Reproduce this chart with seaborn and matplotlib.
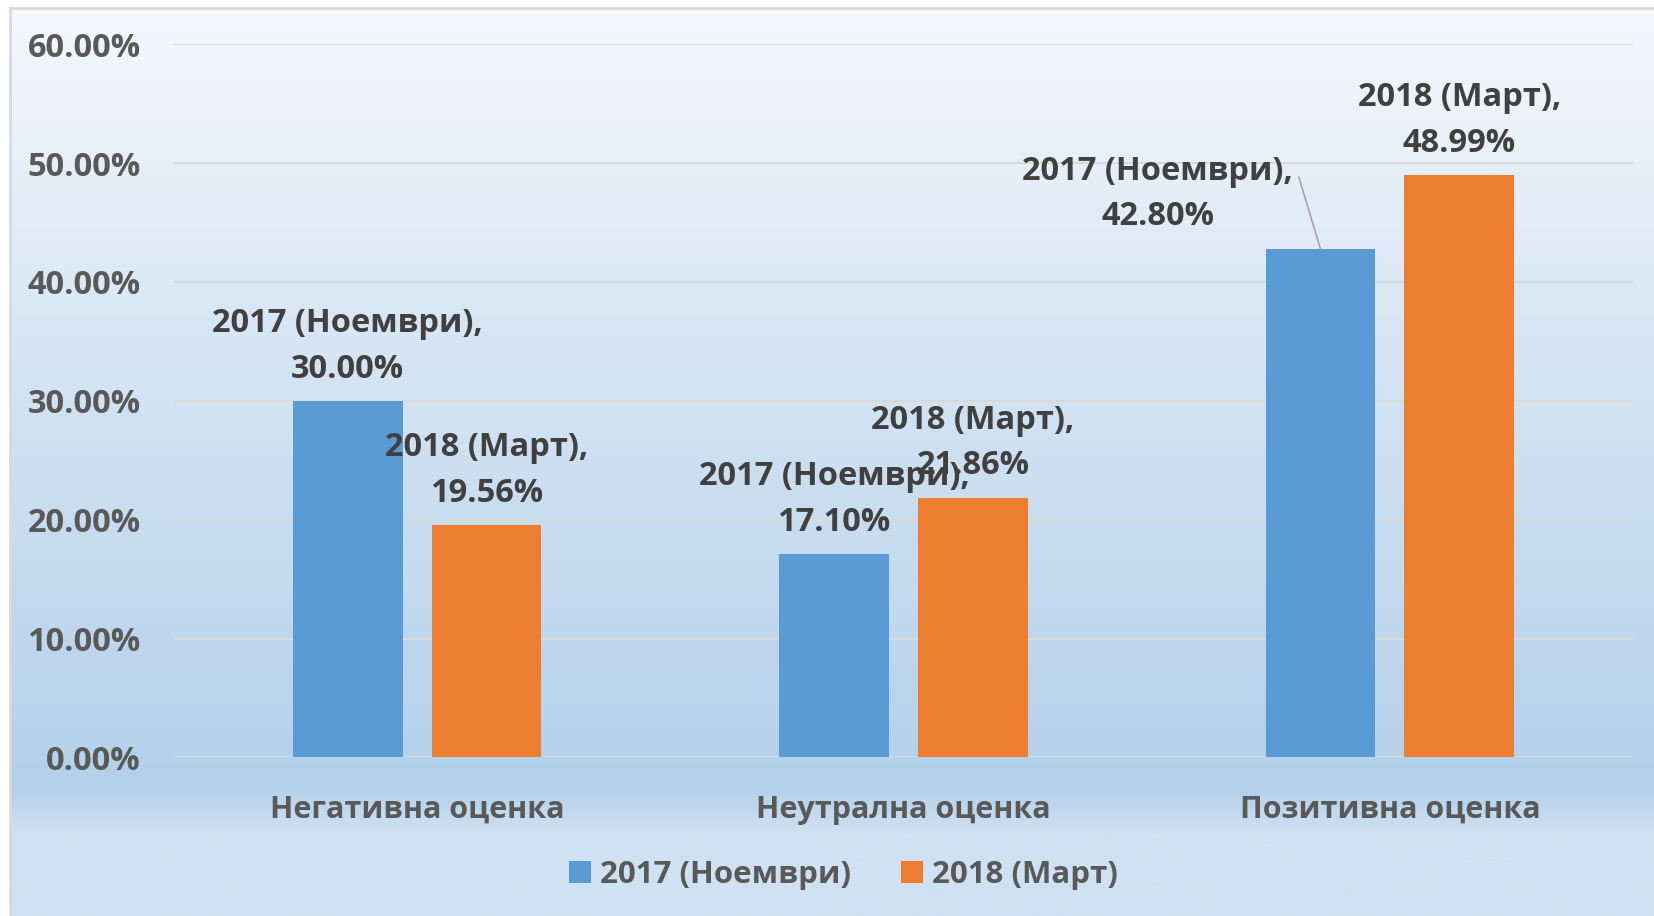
import matplotlib
matplotlib.use("Agg")
import matplotlib.pyplot as plt
import numpy as np
import pandas as pd
import seaborn as sns
from matplotlib.colors import to_rgb

categories = ["Негативна оценка", "Неутрална оценка", "Позитивна оценка"]
series_names = ["2017 (Ноември)", "2018 (Март)"]
values_2017 = [0.3000, 0.1710, 0.4280]
values_2018 = [0.1956, 0.2186, 0.4899]
yticks = [0.0, 0.1, 0.2, 0.3, 0.4, 0.5, 0.6]

df = pd.DataFrame({
    "category": categories * 2,
    "series": [series_names[0]] * 3 + [series_names[1]] * 3,
    "value": values_2017 + values_2018,
})

sns.set_theme(style="white")
plt.rcParams["font.family"] = ["Open Sans", "DejaVu Sans"]
plt.rcParams["font.weight"] = "bold"

FS = 23.5
W, H = 1654, 916
fig = plt.figure(figsize=(W / 100, H / 100), dpi=100)
fig.patch.set_facecolor("white")

# chart-area background gradient (Excel style)
bg = fig.add_axes([10 / W, 0, 1 - 10 / W, 1 - 8 / H], zorder=-10)
stops_y = [0.0, 0.36, 0.86, 0.91, 1.0]
stops_c = ["#f5f8fc", "#d7e6f4", "#b3d0eb", "#cfe1f2", "#cfe1f2"]
yy = np.linspace(0, 1, 400)
grad = np.zeros((400, 1, 3))
for ch in range(3):
    grad[:, 0, ch] = np.interp(yy, stops_y, [to_rgb(c)[ch] for c in stops_c])
bg.imshow(grad, aspect="auto", extent=[0, 1, 0, 1], origin="upper")
bg.set_xlim(0, 1)
bg.set_ylim(0, 1)
bg.set_xticks([])
bg.set_yticks([])
for s in ["right", "bottom"]:
    bg.spines[s].set_visible(False)
for s in ["left", "top"]:
    bg.spines[s].set_color("#d9d9d9")
    bg.spines[s].set_linewidth(2)

ax = fig.add_axes([174 / W, 1 - 757.4 / H, (1633 - 174) / W, (757.4 - 44.3) / H])
ax.set_facecolor("none")

palette = {series_names[0]: "#5b9bd5", series_names[1]: "#ed7d31"}
sns.barplot(data=df, x="category", y="value", hue="series", palette=palette,
            width=0.571, gap=0.21, saturation=1, linewidth=0, ax=ax,
            legend=True, zorder=3)

ax.set_ylim(0, 0.6)
ax.set_xlim(-0.5, 2.5)
ax.set_yticks(yticks)
ax.set_yticklabels([f"{t * 100:.2f}%" for t in yticks])
ax.grid(axis="y", color="#d9d9d9", linewidth=1.5, zorder=0)
ax.set_axisbelow(True)
for s in ["top", "right", "left", "bottom"]:
    ax.spines[s].set_visible(False)
ax.tick_params(axis="y", length=0, pad=24, labelsize=FS, labelcolor="#595959")
ax.tick_params(axis="x", length=0, pad=27, labelsize=22, labelcolor="#595959")
ax.set_xlabel("")
ax.set_ylabel("")

# data labels
label_shift = {(0, 2): -117}
for si, cont in enumerate(ax.containers):
    for ci, bar in enumerate(cont):
        h = bar.get_height()
        txt = f"{series_names[si]},\n{h * 100:.2f}%"
        dx = label_shift.get((si, ci), 0)
        x = bar.get_x() + bar.get_width() / 2
        kw = {}
        if dx:
            kw["arrowprops"] = dict(arrowstyle="-", color="#a6a6a6", lw=1.2,
                                    shrinkA=0, shrinkB=0, relpos=(1.02, 0.72))
        ax.annotate(txt, xy=(x, h), xytext=(dx, 11), textcoords="offset points",
                    ha="center", va="bottom", fontsize=FS, fontweight="bold",
                    color="#404040", linespacing=1.5, zorder=5, **kw)

handles, labels = ax.get_legend_handles_labels()
ax.get_legend().remove()
fig.legend(handles, labels, loc="center", bbox_to_anchor=(0.51, 1 - 875 / H),
           ncol=2, frameon=False, fontsize=22.5, handlelength=0.7, handleheight=0.7,
           handletextpad=0.3, columnspacing=1.6, labelcolor="#595959")

fig.savefig("out.png", dpi=100, facecolor=fig.get_facecolor())
